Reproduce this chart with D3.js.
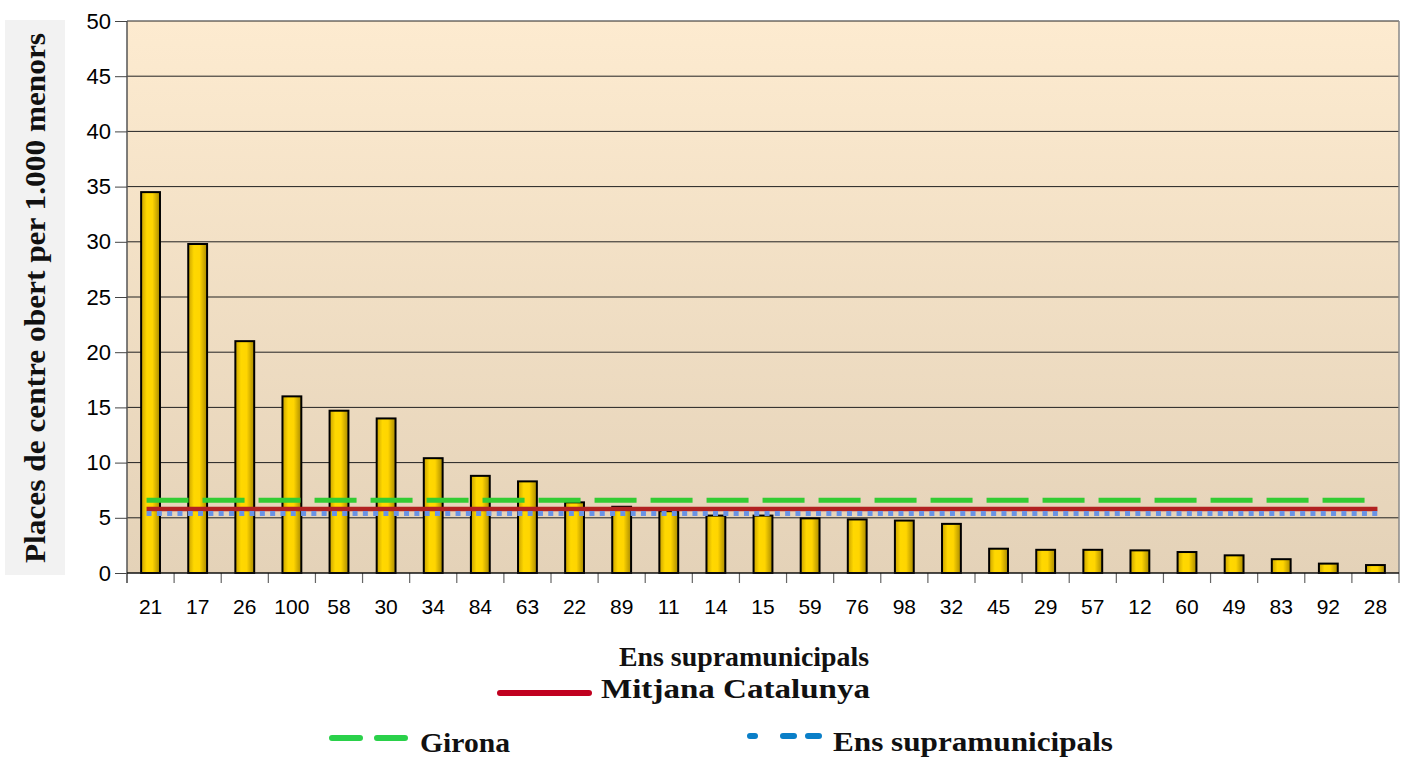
<!DOCTYPE html>
<html>
<head>
<meta charset="utf-8">
<script src="https://cdn.jsdelivr.net/npm/d3@7"></script>
<style>
  body { margin: 0; background: #fff; }
  svg { display: block; }
</style>
</head>
<body>
<div id="chart"></div>
<script>
// data
const ensCodes = ["21", "17", "26", "100", "58", "30", "34", "84", "63", "22", "89", "11", "14", "15",
  "59", "76", "98", "32", "45", "29", "57", "12", "60", "49", "83", "92", "28"];
const placesValues = [34.5, 29.8, 21.0, 16.0, 14.7, 14.0, 10.4, 8.8, 8.3, 6.4, 6.0, 5.6, 5.2, 5.2,
  4.95, 4.85, 4.75, 4.45, 2.2, 2.1, 2.1, 2.05, 1.9, 1.6, 1.25, 0.85, 0.72];
const yTicks = [0, 5, 10, 15, 20, 25, 30, 35, 40, 45, 50];
const refNames = ["Mitjana Catalunya", "Girona", "Ens supramunicipals"];
const refValues = [5.8, 6.6, 5.4];

const svgObj = { width: 1408, height: 760 };
const plot = { left: 127, right: 1399, top: 21, bottom: 573 };
const serif = "Liberation Serif, serif";
const sans = "Liberation Sans, Arial, sans-serif";

const svg = d3.select("#chart")
  .append("svg")
  .attr("width", svgObj.width)
  .attr("height", svgObj.height);

const defs = svg.append("defs");

const bgGrad = defs.append("linearGradient")
  .attr("id", "bg-grad")
  .attr("x1", 0).attr("y1", 0).attr("x2", 0).attr("y2", 1);
bgGrad.append("stop").attr("offset", "0%").attr("stop-color", "#fdebd0");
bgGrad.append("stop").attr("offset", "100%").attr("stop-color", "#e4d2b8");

const barGrad = defs.append("linearGradient")
  .attr("id", "bar-grad")
  .attr("x1", 0).attr("y1", 0).attr("x2", 1).attr("y2", 0);
barGrad.append("stop").attr("offset", "0%").attr("stop-color", "#c9a200");
barGrad.append("stop").attr("offset", "30%").attr("stop-color", "#ffd800");
barGrad.append("stop").attr("offset", "60%").attr("stop-color", "#ffd500");
barGrad.append("stop").attr("offset", "100%").attr("stop-color", "#a98a00");

const x = d3.scaleBand()
  .domain(ensCodes)
  .range([plot.left, plot.right])
  .paddingInner(0)
  .paddingOuter(0);

const y = d3.scaleLinear()
  .domain([0, 50])
  .range([plot.bottom, plot.top]);

// y label box
svg.append("rect")
  .attr("x", 5)
  .attr("y", 20)
  .attr("width", 60)
  .attr("height", 555)
  .attr("fill", "#f2f2f2");

svg.append("text")
  .attr("transform", `translate(45, 298) rotate(-90)`)
  .attr("text-anchor", "middle")
  .attr("font-family", serif)
  .attr("font-weight", "bold")
  .attr("font-size", 29)
  .attr("textLength", 530)
  .attr("lengthAdjust", "spacingAndGlyphs")
  .attr("fill", "#111")
  .text("Places de centre obert per 1.000 menors");

// plot background
svg.append("rect")
  .attr("x", plot.left)
  .attr("y", plot.top)
  .attr("width", plot.right - plot.left)
  .attr("height", plot.bottom - plot.top)
  .attr("fill", "url(#bg-grad)");

// gridlines
svg.append("g")
  .selectAll("line")
  .data(yTicks.filter((d) => d > 0))
  .join("line")
  .attr("x1", plot.left)
  .attr("x2", plot.right)
  .attr("y1", (d) => y(d))
  .attr("y2", (d) => y(d))
  .attr("stroke", "#222")
  .attr("stroke-width", 1);

// right border
svg.append("line")
  .attr("x1", plot.right).attr("x2", plot.right)
  .attr("y1", plot.top).attr("y2", plot.bottom)
  .attr("stroke", "#888")
  .attr("stroke-width", 1.5);

// y axis
const yAxis = svg.append("g")
  .attr("transform", `translate(${plot.left}, 0)`)
  .call(d3.axisLeft(y).tickValues(yTicks).tickSize(12).tickPadding(4));
yAxis.select(".domain").attr("stroke", "#555").attr("stroke-width", 1.5)
  .attr("d", `M0,${plot.top}V${plot.bottom + 10}`);
yAxis.selectAll(".tick line").attr("stroke", "#444");
yAxis.selectAll(".tick text")
  .attr("font-family", sans)
  .attr("font-size", 22)
  .attr("fill", "#000");

// x ticks between categories
const boundaries = ensCodes.map((d) => x(d)).concat([plot.right]);
svg.append("g")
  .selectAll("line")
  .data(boundaries)
  .join("line")
  .attr("x1", (d) => d)
  .attr("x2", (d) => d)
  .attr("y1", plot.bottom)
  .attr("y2", plot.bottom + 10)
  .attr("stroke", "#666")
  .attr("stroke-width", 1.2);

// bars
const barW = x.bandwidth() * 0.4;
svg.append("g")
  .selectAll("rect")
  .data(ensCodes)
  .join("rect")
  .attr("x", (d) => x(d) + (x.bandwidth() - barW) / 2)
  .attr("y", (d, i) => y(placesValues[i]))
  .attr("width", barW)
  .attr("height", (d, i) => y(0) - y(placesValues[i]))
  .attr("fill", "url(#bar-grad)")
  .attr("stroke", "#000")
  .attr("stroke-width", 2);

// x axis line
svg.append("line")
  .attr("x1", plot.left).attr("x2", plot.right)
  .attr("y1", plot.bottom).attr("y2", plot.bottom)
  .attr("stroke", "#111")
  .attr("stroke-width", 1.5);

// x labels
svg.append("g")
  .selectAll("text")
  .data(ensCodes)
  .join("text")
  .attr("x", (d) => x(d) + x.bandwidth() / 2)
  .attr("y", 614)
  .attr("text-anchor", "middle")
  .attr("font-family", sans)
  .attr("font-size", 21)
  .attr("fill", "#000")
  .text((d) => d);

// reference lines
const lineStart = x(ensCodes[0]) + x.bandwidth() / 2 - 4;
const lineEnd = x(ensCodes[ensCodes.length - 1]) + x.bandwidth() / 2 + 2;
const refStyles = [
  { color: "#b22222", dash: null, width: 4.5 },
  { color: "#33cc33", dash: "42 14", width: 5 },
  { color: "#6a93e6", dash: "5 5.3", width: 5 },
];
const refOrder = [1, 0, 2];
refOrder.forEach((i) => {
  svg.append("line")
    .attr("x1", lineStart)
    .attr("x2", lineEnd)
    .attr("y1", y(refValues[i]))
    .attr("y2", y(refValues[i]))
    .attr("stroke", refStyles[i].color)
    .attr("stroke-width", refStyles[i].width)
    .attr("stroke-dasharray", refStyles[i].dash);
});

// x title
svg.append("text")
  .attr("x", 619)
  .attr("y", 666)
  .attr("font-family", serif)
  .attr("font-weight", "bold")
  .attr("font-size", 28)
  .attr("textLength", 250)
  .attr("lengthAdjust", "spacingAndGlyphs")
  .attr("fill", "#111")
  .text("Ens supramunicipals");

// legend
const legendItems = [
  { x1: 500, x2: 589, y: 693, color: "#c0001f", dash: null, tx: 601, ty: 698, tw: 269 },
  { x1: 332, x2: 406, y: 738, color: "#2ad14a", dash: "28 17", tx: 420, ty: 752, tw: 90 },
  { x1: 750, x2: 819, y: 736, color: "#0a7fc8", dash: "5 28 11 14 11", tx: 833, ty: 751, tw: 280 },
];
legendItems.forEach((item, i) => {
  svg.append("line")
    .attr("x1", item.x1)
    .attr("x2", item.x2)
    .attr("y1", item.y)
    .attr("y2", item.y)
    .attr("stroke", item.color)
    .attr("stroke-width", 6)
    .attr("stroke-linecap", "round")
    .attr("stroke-dasharray", item.dash);
  svg.append("text")
    .attr("x", item.tx)
    .attr("y", item.ty)
    .attr("font-family", serif)
    .attr("font-weight", "bold")
    .attr("font-size", 28)
    .attr("textLength", item.tw)
    .attr("lengthAdjust", "spacingAndGlyphs")
    .attr("fill", "#111")
    .text(refNames[i]);
});
</script>
</body>
</html>
